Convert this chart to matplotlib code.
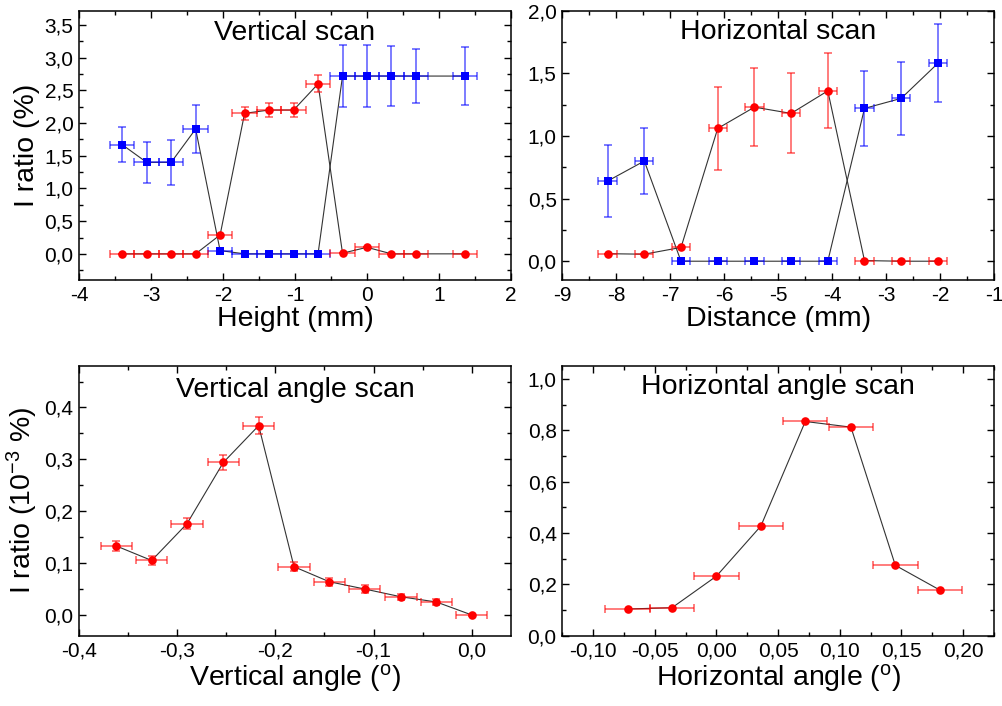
import matplotlib
matplotlib.use("Agg")
import matplotlib.pyplot as plt
from matplotlib.ticker import MultipleLocator, FuncFormatter

TICK_FS = 15
LABEL_FS = 20.5
TITLE_FS = 20.5

plt.rcParams['font.family'] = ['Liberation Sans', 'DejaVu Sans']
plt.rcParams['mathtext.default'] = 'regular'
plt.rcParams['xtick.labelsize'] = TICK_FS
plt.rcParams['ytick.labelsize'] = TICK_FS

# ---------------- data ----------------
# Vertical scan (top-left)
vs_x = [-3.40, -3.06, -2.72, -2.38, -2.04, -1.70, -1.36, -1.02, -0.68, -0.34, 0.00, 0.34, 0.68, 1.36]
vs_blue = [1.67, 1.40, 1.40, 1.91, 0.05, 0.0, 0.0, 0.0, 0.0, 2.72, 2.72, 2.72, 2.72, 2.72]
vs_blue_err = [0.265, 0.31, 0.34, 0.36, 0.0, 0.0, 0.0, 0.0, 0.0, 0.47, 0.47, 0.46, 0.41, 0.45]
vs_red = [0.0, 0.0, 0.0, 0.0, 0.29, 2.15, 2.20, 2.20, 2.60, 0.01, 0.10, 0.0, 0.0, 0.0]
vs_red_err = [0.0, 0.0, 0.0, 0.0, 0.0, 0.10, 0.11, 0.11, 0.13, 0.0, 0.0, 0.0, 0.0, 0.0]
vs_xerr = 0.17

# Horizontal scan (top-right)
hs_x = [-8.16, -7.48, -6.80, -6.12, -5.44, -4.76, -4.08, -3.40, -2.72, -2.04]
hs_blue = [0.64, 0.80, 0.0, 0.0, 0.0, 0.0, 0.0, 1.22, 1.30, 1.58]
hs_blue_err = [0.29, 0.26, 0.0, 0.0, 0.0, 0.0, 0.0, 0.30, 0.29, 0.31]
hs_red = [0.06, 0.056, 0.11, 1.06, 1.23, 1.18, 1.36, 0.005, 0.0, 0.0]
hs_red_err = [0.0, 0.0, 0.0, 0.33, 0.31, 0.32, 0.30, 0.0, 0.0, 0.0]
hs_xerr = 0.17

# Vertical angle scan (bottom-left)
va_x = [-0.362, -0.326, -0.290, -0.253, -0.217, -0.181, -0.145, -0.109, -0.072, -0.036, 0.0]
va_y = [0.133, 0.105, 0.176, 0.294, 0.365, 0.093, 0.064, 0.050, 0.035, 0.025, 0.0]
va_yerr = [0.010, 0.009, 0.011, 0.014, 0.016, 0.009, 0.008, 0.007, 0.006, 0.006, 0.002]
va_xerr = 0.016

# Horizontal angle scan (bottom-right)
ha_x = [-0.072, -0.036, 0.0, 0.036, 0.072, 0.109, 0.145, 0.181]
ha_y = [0.104, 0.109, 0.232, 0.427, 0.834, 0.812, 0.274, 0.178]
ha_xerr = 0.018

BLUE = '#0000ff'
RED = '#ff0000'

fig = plt.figure(figsize=(10.03, 7.06), dpi=100)

W, H = 1003.0, 706.0
def add_ax(l, r, t, b):
    return fig.add_axes([l / W, 1 - b / H, (r - l) / W, (b - t) / H])

ax1 = add_ax(79, 511, 10.7, 280)
ax2 = add_ax(562.3, 994, 10.7, 280)
ax3 = add_ax(79, 511, 366, 635.7)
ax4 = add_ax(562.3, 994, 366, 635.7)


def comma_fmt(dec):
    def f(v, pos):
        s = f"{v:.{dec}f}"
        if s.startswith('-') and float(s) == 0:
            s = s[1:]
        return s.replace('.', ',')
    return FuncFormatter(f)


def style(ax, xlim, ylim, xmaj, xmin, ymaj, ymin, xdec, ydec):
    ax.set_xlim(*xlim)
    ax.set_ylim(*ylim)
    ax.xaxis.set_major_locator(MultipleLocator(xmaj))
    ax.xaxis.set_minor_locator(MultipleLocator(xmin))
    ax.yaxis.set_major_locator(MultipleLocator(ymaj))
    ax.yaxis.set_minor_locator(MultipleLocator(ymin))
    ax.xaxis.set_major_formatter(comma_fmt(xdec))
    ax.yaxis.set_major_formatter(comma_fmt(ydec))
    ax.tick_params(which='both', direction='in', top=True, right=True,
                   labelsize=TICK_FS, width=1.0, colors='black')
    ax.tick_params(which='major', length=5, pad=4)
    ax.tick_params(which='minor', length=3)
    for sp in ax.spines.values():
        sp.set_linewidth(1.1)


def series(ax, x, y, yerr, xerr, color, marker, ms):
    ax.plot(x, y, color='#333333', lw=0.8, zorder=2)
    ax.errorbar(x, y, yerr=yerr, xerr=xerr, fmt='none', ecolor=color,
                elinewidth=1.1, capsize=3, capthick=1.1, alpha=0.65, zorder=3)
    ax.plot(x, y, linestyle='none', marker=marker, color=color, ms=ms,
            markeredgewidth=0, zorder=4)


# Top-left
series(ax1, vs_x, vs_blue, vs_blue_err, vs_xerr, BLUE, 's', 5.5)
series(ax1, vs_x, vs_red, vs_red_err, vs_xerr, RED, 'o', 6.2)
style(ax1, (-4, 2), (-0.4, 3.72), 1, 0.5, 0.5, 0.25, 0, 1)
ax1.set_xlabel('Height (mm)', fontsize=LABEL_FS, labelpad=1)
ax1.set_ylabel('I ratio (%)', fontsize=LABEL_FS, labelpad=3)
ax1.text(0.5, 0.917, 'Vertical scan', transform=ax1.transAxes,
         ha='center', va='center', fontsize=TITLE_FS)

# Top-right
series(ax2, hs_x, hs_blue, hs_blue_err, hs_xerr, BLUE, 's', 5.5)
series(ax2, hs_x, hs_red, hs_red_err, hs_xerr, RED, 'o', 6.2)
style(ax2, (-9, -1), (-0.15, 2.0), 1, 0.5, 0.5, 0.25, 0, 1)
ax2.set_xlabel('Distance (mm)', fontsize=LABEL_FS, labelpad=1)
ax2.text(0.5, 0.92, 'Horizontal scan', transform=ax2.transAxes,
         ha='center', va='center', fontsize=TITLE_FS)

# Bottom-left
series(ax3, va_x, va_y, va_yerr, va_xerr, RED, 'o', 6.2)
style(ax3, (-0.4, 0.04), (-0.04, 0.48), 0.1, 0.05, 0.1, 0.05, 1, 1)
ax3.set_xlabel('Vertical angle ($^{o}$)', fontsize=LABEL_FS, labelpad=1)
ax3.set_ylabel('I ratio (10$^{-3}$ %)', fontsize=LABEL_FS, labelpad=3)
ax3.text(0.5, 0.911, 'Vertical angle scan', transform=ax3.transAxes,
         ha='center', va='center', fontsize=TITLE_FS)

# Bottom-right
series(ax4, ha_x, ha_y, None, ha_xerr, RED, 'o', 6.2)
style(ax4, (-0.125, 0.225), (0.0, 1.05), 0.05, 0.025, 0.2, 0.1, 2, 1)
ax4.set_xlabel('Horizontal angle ($^{o}$)', fontsize=LABEL_FS, labelpad=1)
ax4.text(0.5, 0.922, 'Horizontal angle scan', transform=ax4.transAxes,
         ha='center', va='center', fontsize=TITLE_FS)

fig.savefig('out.png', dpi=100)
